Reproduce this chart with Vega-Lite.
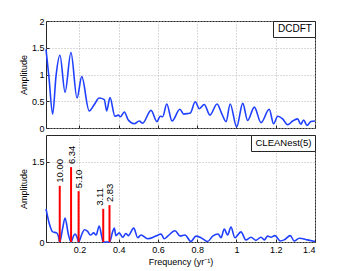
{
  "$schema": "https://vega.github.io/schema/vega-lite/v6.json",
  "padding": {"left": 18, "top": 16, "right": 5, "bottom": 5},
  "background": "white",
  "datasets": {
    "dcdft": [
      {"f": 0.030, "a": 1.47, "s": "DCDFT"}, {"f": 0.045, "a": 0.95, "s": "DCDFT"}, {"f": 0.064, "a": 0.26, "s": "DCDFT"},
      {"f": 0.081, "a": 0.97, "s": "DCDFT"}, {"f": 0.101, "a": 1.36, "s": "DCDFT"}, {"f": 0.127, "a": 0.67, "s": "DCDFT"},
      {"f": 0.157, "a": 1.41, "s": "DCDFT"}, {"f": 0.188, "a": 0.56, "s": "DCDFT"}, {"f": 0.212, "a": 0.96, "s": "DCDFT"},
      {"f": 0.250, "a": 0.32, "s": "DCDFT"}, {"f": 0.276, "a": 0.44, "s": "DCDFT"}, {"f": 0.301, "a": 0.56, "s": "DCDFT"},
      {"f": 0.327, "a": 0.53, "s": "DCDFT"}, {"f": 0.339, "a": 0.32, "s": "DCDFT"}, {"f": 0.356, "a": 0.57, "s": "DCDFT"},
      {"f": 0.381, "a": 0.22, "s": "DCDFT"}, {"f": 0.398, "a": 0.24, "s": "DCDFT"}, {"f": 0.409, "a": 0.21, "s": "DCDFT"},
      {"f": 0.429, "a": 0.30, "s": "DCDFT"}, {"f": 0.449, "a": 0.15, "s": "DCDFT"}, {"f": 0.480, "a": 0.08, "s": "DCDFT"},
      {"f": 0.505, "a": 0.13, "s": "DCDFT"}, {"f": 0.522, "a": 0.09, "s": "DCDFT"}, {"f": 0.565, "a": 0.33, "s": "DCDFT"},
      {"f": 0.595, "a": 0.12, "s": "DCDFT"}, {"f": 0.612, "a": 0.22, "s": "DCDFT"}, {"f": 0.624, "a": 0.21, "s": "DCDFT"},
      {"f": 0.645, "a": 0.45, "s": "DCDFT"}, {"f": 0.672, "a": 0.13, "s": "DCDFT"}, {"f": 0.712, "a": 0.35, "s": "DCDFT"},
      {"f": 0.731, "a": 0.26, "s": "DCDFT"}, {"f": 0.752, "a": 0.27, "s": "DCDFT"}, {"f": 0.765, "a": 0.28, "s": "DCDFT"},
      {"f": 0.790, "a": 0.49, "s": "DCDFT"}, {"f": 0.811, "a": 0.36, "s": "DCDFT"}, {"f": 0.836, "a": 0.44, "s": "DCDFT"},
      {"f": 0.865, "a": 0.24, "s": "DCDFT"}, {"f": 0.901, "a": 0.45, "s": "DCDFT"}, {"f": 0.926, "a": 0.26, "s": "DCDFT"},
      {"f": 0.947, "a": 0.12, "s": "DCDFT"}, {"f": 0.968, "a": 0.45, "s": "DCDFT"}, {"f": 1.001, "a": 0.02, "s": "DCDFT"},
      {"f": 1.032, "a": 0.46, "s": "DCDFT"}, {"f": 1.057, "a": 0.14, "s": "DCDFT"}, {"f": 1.091, "a": 0.39, "s": "DCDFT"},
      {"f": 1.125, "a": 0.10, "s": "DCDFT"}, {"f": 1.167, "a": 0.35, "s": "DCDFT"}, {"f": 1.189, "a": 0.08, "s": "DCDFT"},
      {"f": 1.210, "a": 0.22, "s": "DCDFT"}, {"f": 1.235, "a": 0.17, "s": "DCDFT"}, {"f": 1.261, "a": 0.06, "s": "DCDFT"},
      {"f": 1.286, "a": 0.13, "s": "DCDFT"}, {"f": 1.311, "a": 0.17, "s": "DCDFT"}, {"f": 1.328, "a": 0.07, "s": "DCDFT"},
      {"f": 1.342, "a": 0.15, "s": "DCDFT"}, {"f": 1.359, "a": 0.05, "s": "DCDFT"}, {"f": 1.379, "a": 0.12, "s": "DCDFT"},
      {"f": 1.400, "a": 0.13, "s": "DCDFT"}
    ],
    "clean": [
      {"f": 0.030, "a": 0.62, "s": "CLEANest(5)"}, {"f": 0.047, "a": 0.34, "s": "CLEANest(5)"}, {"f": 0.064, "a": 0.19, "s": "CLEANest(5)"},
      {"f": 0.084, "a": 0.17, "s": "CLEANest(5)"}, {"f": 0.093, "a": 0.11, "s": "CLEANest(5)"}, {"f": 0.100, "a": 0.0, "s": "CLEANest(5)"},
      {"f": 0.115, "a": 0.26, "s": "CLEANest(5)"}, {"f": 0.127, "a": 0.45, "s": "CLEANest(5)"}, {"f": 0.144, "a": 0.14, "s": "CLEANest(5)"},
      {"f": 0.1577, "a": 0.0, "s": "CLEANest(5)"}, {"f": 0.171, "a": 0.12, "s": "CLEANest(5)"}, {"f": 0.179, "a": 0.15, "s": "CLEANest(5)"},
      {"f": 0.188, "a": 0.09, "s": "CLEANest(5)"}, {"f": 0.196, "a": 0.0, "s": "CLEANest(5)"}, {"f": 0.212, "a": 0.14, "s": "CLEANest(5)"},
      {"f": 0.225, "a": 0.23, "s": "CLEANest(5)"}, {"f": 0.242, "a": 0.20, "s": "CLEANest(5)"}, {"f": 0.256, "a": 0.13, "s": "CLEANest(5)"},
      {"f": 0.273, "a": 0.17, "s": "CLEANest(5)"}, {"f": 0.285, "a": 0.13, "s": "CLEANest(5)"}, {"f": 0.301, "a": 0.30, "s": "CLEANest(5)"},
      {"f": 0.314, "a": 0.10, "s": "CLEANest(5)"}, {"f": 0.3215, "a": 0.0, "s": "CLEANest(5)"}, {"f": 0.339, "a": 0.0, "s": "CLEANest(5)"},
      {"f": 0.3534, "a": 0.0, "s": "CLEANest(5)"}, {"f": 0.370, "a": 0.20, "s": "CLEANest(5)"}, {"f": 0.378, "a": 0.26, "s": "CLEANest(5)"},
      {"f": 0.386, "a": 0.12, "s": "CLEANest(5)"}, {"f": 0.403, "a": 0.17, "s": "CLEANest(5)"}, {"f": 0.421, "a": 0.09, "s": "CLEANest(5)"},
      {"f": 0.437, "a": 0.16, "s": "CLEANest(5)"}, {"f": 0.449, "a": 0.12, "s": "CLEANest(5)"}, {"f": 0.477, "a": 0.26, "s": "CLEANest(5)"},
      {"f": 0.497, "a": 0.08, "s": "CLEANest(5)"}, {"f": 0.514, "a": 0.13, "s": "CLEANest(5)"}, {"f": 0.548, "a": 0.06, "s": "CLEANest(5)"},
      {"f": 0.590, "a": 0.11, "s": "CLEANest(5)"}, {"f": 0.616, "a": 0.15, "s": "CLEANest(5)"}, {"f": 0.632, "a": 0.06, "s": "CLEANest(5)"},
      {"f": 0.650, "a": 0.11, "s": "CLEANest(5)"}, {"f": 0.687, "a": 0.21, "s": "CLEANest(5)"}, {"f": 0.714, "a": 0.11, "s": "CLEANest(5)"},
      {"f": 0.738, "a": 0.13, "s": "CLEANest(5)"}, {"f": 0.768, "a": 0.01, "s": "CLEANest(5)"}, {"f": 0.794, "a": 0.11, "s": "CLEANest(5)"},
      {"f": 0.819, "a": 0.08, "s": "CLEANest(5)"}, {"f": 0.853, "a": 0.01, "s": "CLEANest(5)"}, {"f": 0.879, "a": 0.11, "s": "CLEANest(5)"},
      {"f": 0.907, "a": 0.15, "s": "CLEANest(5)"}, {"f": 0.921, "a": 0.08, "s": "CLEANest(5)"}, {"f": 0.938, "a": 0.24, "s": "CLEANest(5)"},
      {"f": 0.955, "a": 0.13, "s": "CLEANest(5)"}, {"f": 0.972, "a": 0.28, "s": "CLEANest(5)"}, {"f": 0.992, "a": 0.08, "s": "CLEANest(5)"},
      {"f": 1.023, "a": 0.19, "s": "CLEANest(5)"}, {"f": 1.048, "a": 0.04, "s": "CLEANest(5)"}, {"f": 1.074, "a": 0.09, "s": "CLEANest(5)"},
      {"f": 1.099, "a": 0.03, "s": "CLEANest(5)"}, {"f": 1.125, "a": 0.09, "s": "CLEANest(5)"}, {"f": 1.142, "a": 0.04, "s": "CLEANest(5)"},
      {"f": 1.159, "a": 0.11, "s": "CLEANest(5)"}, {"f": 1.176, "a": 0.09, "s": "CLEANest(5)"}, {"f": 1.196, "a": 0.12, "s": "CLEANest(5)"},
      {"f": 1.223, "a": 0.02, "s": "CLEANest(5)"}, {"f": 1.243, "a": 0.04, "s": "CLEANest(5)"}, {"f": 1.274, "a": 0.12, "s": "CLEANest(5)"},
      {"f": 1.294, "a": 0.02, "s": "CLEANest(5)"}, {"f": 1.320, "a": 0.07, "s": "CLEANest(5)"}, {"f": 1.362, "a": 0.04, "s": "CLEANest(5)"},
      {"f": 1.400, "a": 0.01, "s": "CLEANest(5)"}
    ],
    "peaks": [
      {"f": 0.1, "a": 1.05, "base": 0, "label": "10.00"},
      {"f": 0.1577, "a": 1.40, "base": 0, "label": "6.34"},
      {"f": 0.196, "a": 0.95, "base": 0, "label": "5.10"},
      {"f": 0.3215, "a": 0.62, "base": 0, "label": "3.11"},
      {"f": 0.3534, "a": 0.69, "base": 0, "label": "2.83"}
    ]
  },
  "vconcat": [
    {
      "width": 269,
      "height": 107,
      "data": {"name": "dcdft"},
      "mark": {"type": "line", "interpolate": "monotone", "strokeWidth": 1.6},
      "encoding": {
        "x": {"field": "f", "type": "quantitative", "scale": {"domain": [0.03, 1.4], "nice": false, "zero": false},
              "axis": {"values": [0.2, 0.4, 0.6, 0.8, 1.0, 1.2, 1.4], "labels": false, "labelPadding": 0, "title": null, "minExtent": 0, "maxExtent": 0}},
        "y": {"field": "a", "type": "quantitative", "scale": {"domain": [0, 2], "nice": false},
              "axis": {"values": [0, 0.5, 1, 1.5, 2], "format": "~g", "title": "Amplitude"}},
        "color": {"field": "s", "type": "nominal", "scale": {"range": ["#2040ff"]},
                  "legend": {"title": null, "orient": "top-right", "labelFontSize": 10}}
      }
    },
    {
      "width": 269,
      "height": 107,
      "layer": [
        {
          "data": {"name": "clean"},
          "mark": {"type": "line", "interpolate": "monotone", "strokeWidth": 1.6},
          "encoding": {
            "x": {"field": "f", "type": "quantitative", "scale": {"domain": [0.03, 1.4], "nice": false, "zero": false},
                  "axis": {"values": [0.2, 0.4, 0.6, 0.8, 1.0, 1.2, 1.4], "format": "~g", "title": "Frequency (yr⁻¹)", "labelPadding": 6}},
            "y": {"field": "a", "type": "quantitative", "scale": {"domain": [0, 2], "nice": false},
                  "axis": {"values": [0, 0.5, 1, 1.5], "format": "~g", "title": "Amplitude"}},
            "color": {"field": "s", "type": "nominal", "scale": {"range": ["#2040ff"]},
                      "legend": {"title": null, "orient": "top-right", "labelFontSize": 9.5}}
          }
        },
        {
          "data": {"name": "peaks"},
          "mark": {"type": "rule", "color": "#ff0000", "strokeWidth": 2},
          "encoding": {
            "x": {"field": "f", "type": "quantitative"},
            "y": {"field": "a", "type": "quantitative"},
            "y2": {"field": "base"}
          }
        },
        {
          "data": {"name": "peaks"},
          "transform": [{"filter": "datum.label !== '3.11'"}],
          "mark": {"type": "text", "angle": 270, "align": "left", "baseline": "middle", "dx": 3, "dy": 0.5, "fontSize": 9.5, "font": "Liberation Sans", "color": "black"},
          "encoding": {
            "x": {"field": "f", "type": "quantitative"},
            "y": {"field": "a", "type": "quantitative"},
            "text": {"field": "label", "type": "nominal"}
          }
        },
        {
          "data": {"name": "peaks"},
          "transform": [{"filter": "datum.label === '3.11'"}],
          "mark": {"type": "text", "angle": 270, "align": "left", "baseline": "middle", "dx": 3, "dy": -3, "fontSize": 9.5, "font": "Liberation Sans", "color": "black"},
          "encoding": {
            "x": {"field": "f", "type": "quantitative"},
            "y": {"field": "a", "type": "quantitative"},
            "text": {"field": "label", "type": "nominal"}
          }
        }
      ]
    }
  ],
  "spacing": 0,
  "resolve": {"scale": {"color": "independent"}, "legend": {"color": "independent"}},
  "config": {
    "view": {"stroke": "#262626", "strokeWidth": 1},
    "axis": {
      "grid": true, "gridColor": "#b4b4b4", "gridDash": [1, 2], "gridWidth": 1,
      "domain": false, "ticks": true, "tickColor": "#262626", "tickSize": -3,
      "labelFont": "Liberation Sans", "labelFontSize": 9, "labelColor": "black", "labelPadding": 5,
      "titleFont": "Liberation Sans", "titleFontSize": 9, "titleFontWeight": "normal", "titleColor": "black", "titlePadding": 3
    },
    "legend": {
      "offset": 0, "strokeColor": "#262626", "fillColor": "white", "padding": 3,
      "labelFont": "Liberation Sans", "labelColor": "black",
      "symbolOpacity": 0, "symbolSize": 1, "symbolStrokeWidth": 0, "labelOffset": -8, "cornerRadius": 0
    }
  }
}
